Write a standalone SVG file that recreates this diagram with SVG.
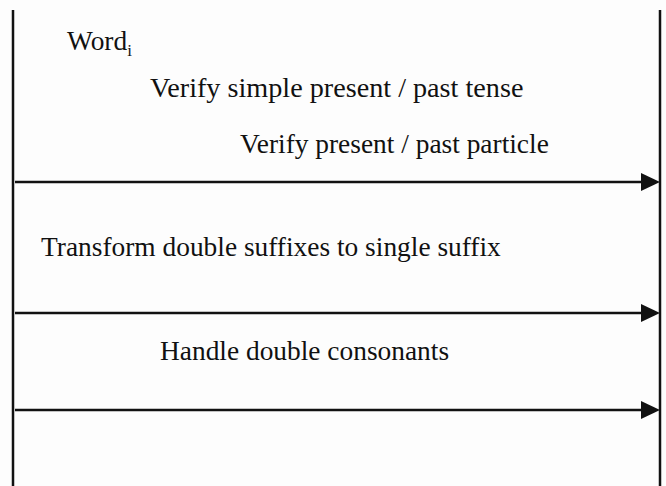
<svg xmlns="http://www.w3.org/2000/svg" width="666" height="486" viewBox="0 0 666 486">
  <style>
    .lbl { font-family: "Liberation Serif", "Times New Roman", serif; font-size: 27.4px; fill: #111; }
    .big { font-size: 28.2px; }
    .sub { font-size: 17px; }
    .frame { stroke: #111; stroke-width: 2.5; fill: none; }
    .conn { stroke: #111; stroke-width: 2.5; fill: none; }
    .head { fill: #111; }
  </style>
  <rect width="666" height="486" fill="#fdfdfd"/>

  <!-- side rails -->
  <g id="frame">
    <line class="frame" x1="13" y1="10" x2="13" y2="486"/>
    <line class="frame" x1="660" y1="10" x2="660" y2="486"/>
  </g>

  <!-- stage labels -->
  <g id="word">
    <text class="lbl" x="67" y="50">Word<tspan class="sub" dy="6">i</tspan></text>
  </g>
  <g id="verify-tense">
    <text class="lbl big" x="150" y="97">Verify simple present / past tense</text>
  </g>
  <g id="verify-particle">
    <text class="lbl" x="240" y="153">Verify present / past particle</text>
  </g>
  <g id="transform-suffix">
    <text class="lbl" x="41" y="256">Transform double suffixes to single suffix</text>
  </g>
  <g id="double-consonants">
    <text class="lbl" x="160" y="360">Handle double consonants</text>
  </g>

  <!-- flow arrows -->
  <g id="connectors">
    <line class="conn" x1="15" y1="182" x2="643" y2="182"/>
    <polygon class="head" points="641,173 660,182 641,191"/>
    <line class="conn" x1="15" y1="313" x2="643" y2="313"/>
    <polygon class="head" points="641,304 660,313 641,322"/>
    <line class="conn" x1="15" y1="410" x2="643" y2="410"/>
    <polygon class="head" points="641,401 660,410 641,419"/>
  </g>
</svg>
